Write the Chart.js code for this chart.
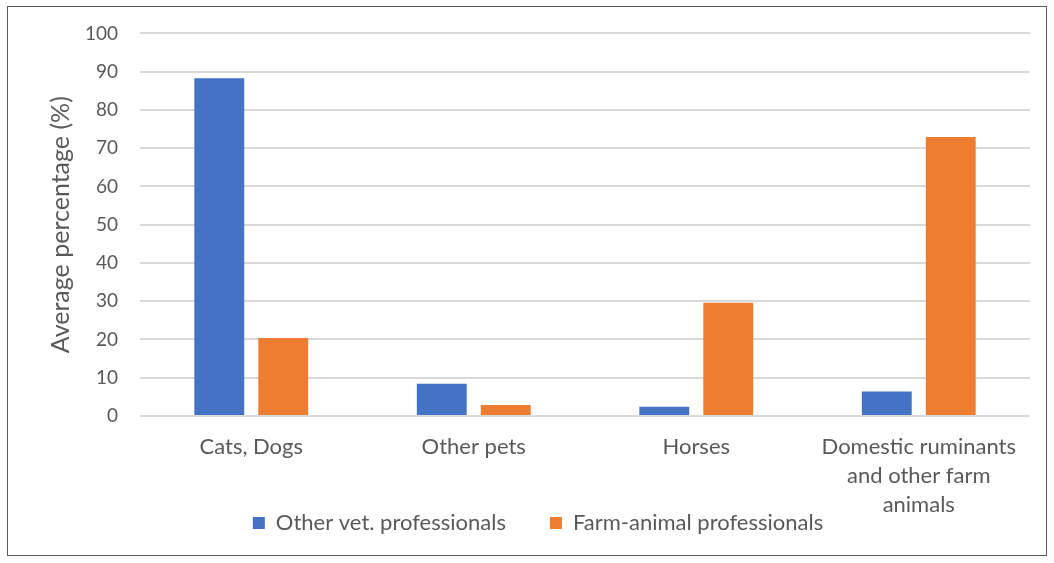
<!DOCTYPE html>
<html>
<head>
<meta charset="utf-8">
<script src="https://cdn.jsdelivr.net/npm/chart.js@4"></script>
<style>
    body { margin: 0; background: #fff; }
    .wrap {
        position: absolute;
        left: 0; top: 0;
        width: 1054px; height: 563px;
    }
    .frame {
        position: absolute;
        left: 7px; top: 6px;
        width: 1040px; height: 550px;
        border: 1px solid #595959;
        box-sizing: border-box;
        pointer-events: none;
    }
</style>
</head>
<body>
<div class="wrap"><canvas id="myChart"></canvas></div>
<div class="frame"></div>
<script>
const categories = ['Cats, Dogs', 'Other pets', 'Horses', ['Domestic ruminants', 'and other farm', 'animals']];
const otherVet = [88.3, 8.4, 2.4, 6.4];
const farmAnimal = [20.4, 2.9, 29.6, 72.9];
const yTicks = [0, 10, 20, 30, 40, 50, 60, 70, 80, 90, 100];

Chart.defaults.font.family = 'Lato, "Open Sans", sans-serif';
Chart.defaults.color = '#595959';

// x labels run down into the legend row, so don't clip them at the axis box
const unclipLabels = {
    id: 'unclipLabels',
    afterLayout(chart) {
        chart.scales.x.bottom = chart.height;
    }
};

const ctx = document.getElementById('myChart').getContext('2d');
const myChart = new Chart(ctx, {
    type: 'bar',
    data: {
        labels: categories,
        datasets: [{
            label: 'Other vet. professionals',
            data: otherVet,
            backgroundColor: '#4472c4'
        }, {
            label: 'Farm-animal professionals',
            data: farmAnimal,
            backgroundColor: '#ed7d31'
        }]
    },
    options: {
        responsive: true,
        maintainAspectRatio: false,
        animation: false,
        layout: { padding: { left: 46, right: 24, top: 0, bottom: 19 } },
        categoryPercentage: 0.575,
        barPercentage: 0.78,
        plugins: {
            tooltip: { enabled: false },
            legend: {
                position: 'bottom',
                labels: {
                    font: { size: 22 },
                    boxWidth: 12,
                    boxHeight: 12,
                    padding: 44,
                    color: '#595959'
                }
            }
        },
        scales: {
            x: {
                grid: { display: false },
                border: { display: false },
                ticks: { font: { size: 22, lineHeight: 1.3 }, maxRotation: 0, padding: 9 },
                afterFit: axis => { axis.height = 52; }
            },
            y: {
                min: 0,
                max: 100,
                afterBuildTicks: axis => { axis.ticks = yTicks.map(v => ({ value: v })); },
                afterFit: axis => { axis.width = 94; },
                grid: { color: '#d9d9d9', lineWidth: 2, drawTicks: false },
                border: { display: false },
                ticks: { font: { size: 19 }, padding: 22 },
                title: {
                    display: true,
                    text: 'Average percentage (%)',
                    font: { size: 25 },
                    color: '#595959',
                    padding: { top: 0, bottom: 0 }
                }
            }
        }
    },
    plugins: [unclipLabels]
});
</script>
</body>
</html>
